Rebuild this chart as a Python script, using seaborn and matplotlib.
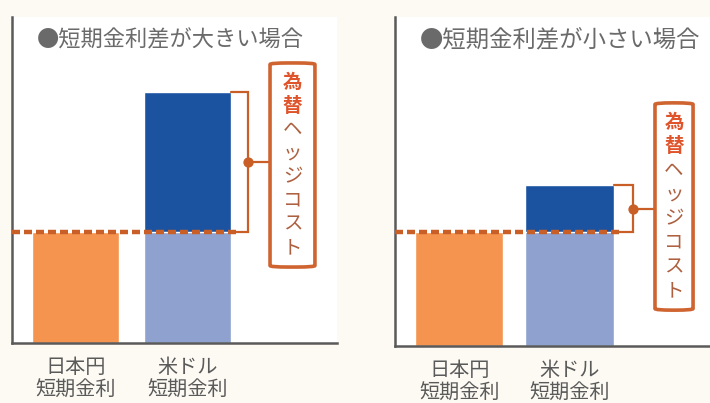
import numpy as np
import matplotlib.pyplot as plt
import seaborn as sns
from matplotlib.patches import FancyBboxPatch

# data (arbitrary units, y range 0-10)
categories = ["日本円\n短期金利", "米ドル\n短期金利"]
titles = ["●短期金利差が大きい場合", "●短期金利差が小さい場合"]
jpy_rate = [3.4, 3.45]
usd_rate = [7.7, 4.9]
hedge_label = "為替ヘッジコスト"

ORANGE = "#f5944f"
DARK_BLUE = "#1b53a1"
LIGHT_BLUE = "#8fa2cf"
LINE_OR = "#c95f26"
BOX_OR = "#cf6430"
GRAY = "#5a5a5a"

sns.set_theme(style="white")
plt.rcParams["font.family"] = ["Noto Sans CJK JP", "DejaVu Sans"]

fig = plt.figure(figsize=(7.1, 4.03), dpi=100)
fig.patch.set_facecolor("#fdfaf3")

# axes rects in figure fraction, bar widths, xlims, bracket/box layout
panels = [
    dict(rect=[12/710, 60/403, 325/710, 326/403], xlim=(-0.567, 2.335), width=0.78,
         brx=1.54, box=(1.737, 2.138, 2.33, 8.59), dash_end=1.46, tx=0.077, tfs=16),
    dict(rect=[395/710, 57/403, 315/710, 329/403], xlim=(-0.586, 2.277), width=0.8,
         brx=1.577, box=(1.777, 2.123, 1.09, 7.39), dash_end=1.45, tx=0.08, tfs=16.8),
]

for i, p in enumerate(panels):
    ax = fig.add_axes(p["rect"])
    ax.set_facecolor("white")
    totals = [jpy_rate[i], usd_rate[i]]
    bases = [jpy_rate[i], jpy_rate[i]]
    sns.barplot(x=categories, y=totals, hue=categories, palette=[ORANGE, DARK_BLUE],
                legend=False, width=p["width"], saturation=1, ax=ax)
    sns.barplot(x=categories, y=bases, hue=categories, palette=[ORANGE, LIGHT_BLUE],
                legend=False, width=p["width"], saturation=1, ax=ax)
    ax.set_xlim(*p["xlim"])
    ax.set_ylim(0, 10)
    ax.set_yticks([])
    ax.tick_params(axis="x", length=0, pad=10, labelsize=14.5, labelcolor=GRAY)
    for lab in ax.get_xticklabels():
        lab.set_linespacing(1.1)
    for s in ["top", "right"]:
        ax.spines[s].set_visible(False)
    for s in ["left", "bottom"]:
        ax.spines[s].set_color(GRAY)
        ax.spines[s].set_linewidth(1.8)

    # dashed line at the JPY rate level
    ax.hlines(jpy_rate[i], p["xlim"][0], p["dash_end"], colors=LINE_OR,
              linestyles=(0, (1.8, 0.9)), linewidth=3.2, zorder=4)

    # bracket for hedge cost
    bar_edge = 1 + p["width"] / 2
    bx = p["brx"]
    lo, hi = jpy_rate[i], usd_rate[i]
    ax.plot([bar_edge, bx, bx, bar_edge], [hi, hi, lo, lo], color=LINE_OR, lw=1.6,
            solid_joinstyle="miter", zorder=5)
    mid = (lo + hi) / 2
    x0, x1, y0, y1 = p["box"]
    ax.plot([bx, x0], [mid, mid], color=LINE_OR, lw=1.6, zorder=5)
    ax.scatter([bx], [mid], s=55, color=LINE_OR, zorder=6, linewidth=0)

    # rounded box with vertical text
    asp = (p["rect"][2] * 710 / np.diff(p["xlim"])[0]) / (p["rect"][3] * 403 / 10)
    box = FancyBboxPatch((x0, y0), x1 - x0, y1 - y0,
                         boxstyle="round,pad=0,rounding_size=0.16",
                         mutation_aspect=1 / asp, facecolor="white",
                         edgecolor=BOX_OR, linewidth=2.6, zorder=5, clip_on=False)
    ax.add_patch(box)
    n = len(hedge_label)
    ys = np.linspace(y1 - 0.6, y0 + 0.6, n)
    for k, ch in enumerate(hedge_label):
        bold = k < 2
        ax.text((x0 + x1) / 2, ys[k], ch, ha="center", va="center",
                fontsize=14, color="#e0542b" if bold else "#ad6040",
                fontweight="bold" if bold else "normal", zorder=7)

    ax.text(p["tx"], 0.93, titles[i], transform=ax.transAxes,
            ha="left", va="center", fontsize=p["tfs"], color="#6a6a6a")

fig.savefig("out.png", dpi=100, facecolor=fig.get_facecolor())
